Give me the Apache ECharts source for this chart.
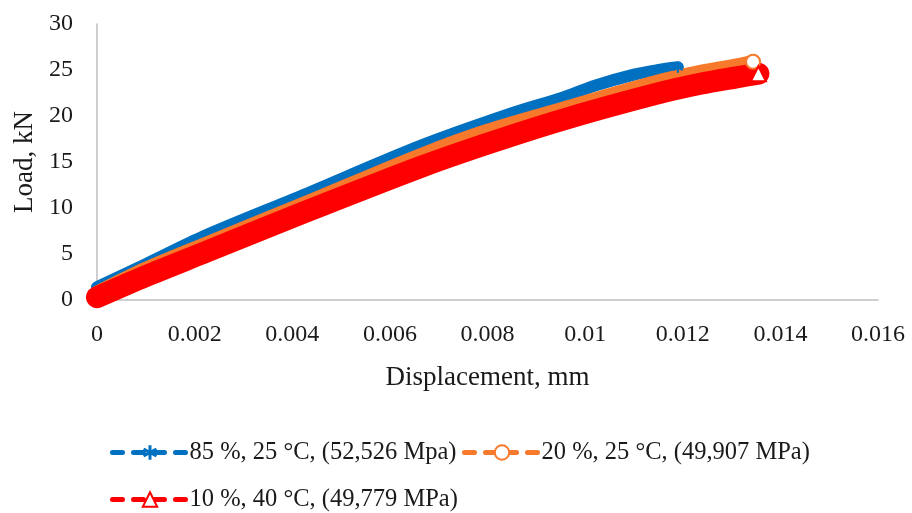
<!DOCTYPE html>
<html><head><meta charset="utf-8">
<script src="https://cdn.jsdelivr.net/npm/echarts@6/dist/echarts.min.js"></script>
<style>html,body{margin:0;padding:0;background:#fff}#c{width:912px;height:513px}</style>
</head><body><div id="c"></div>
<script>
// ---- data ----
const seriesNames = ['85 %, 25 °C, (52,526 Mpa)', '20 %, 25 °C, (49,907 MPa)', '10 %, 40 °C, (49,779 MPa)'];
const dispBlue = [0, 0.001, 0.00222, 0.00418, 0.00665, 0.0085, 0.00954, 0.0102, 0.0110, 0.0115, 0.0119];
const loadBlue = [1.4, 3.9, 7.0, 11.3, 16.8, 20.3, 22.0, 23.3, 24.5, 25.0, 25.3];
const dispOrange = [0, 0.001, 0.00222, 0.00418, 0.00665, 0.008, 0.00954, 0.01145, 0.01236, 0.0131, 0.01344];
const loadOrange = [0.8, 3.4, 6.1, 10.35, 15.8, 18.4, 20.8, 23.7, 24.8, 25.5, 25.9];
const dispRed = [0, 0.001, 0.00222, 0.00418, 0.00665, 0.008, 0.00954, 0.01145, 0.01236, 0.0131, 0.01355];
const loadRed = [0.3, 2.6, 5.2, 9.4, 14.5, 17.0, 19.6, 22.4, 23.5, 24.2, 24.6];
const xMin = 0, xMax = 0.016, xStep = 0.002;
const yMin = 0, yMax = 30, yStep = 5;

const pairs = (xs, ys) => xs.map((x, i) => [x, ys[i]]);
const asterisk = 'path://M-0.2,-1L0.2,-1L0.2,1L-0.2,1Z M-0.966,-0.327L-0.766,-0.673L0.966,0.327L0.766,0.673Z M-0.766,0.673L-0.966,0.327L0.766,-0.673L0.966,-0.327Z';
const FONT = 'Liberation Serif';
const colors = ['#0070C0', '#F7792B', '#FF0000'];

function lastOnly(size, n) {
  return function (v, p) { return p.dataIndex === n - 1 ? size : 0; };
}

function mkSeries(i, xs, ys, width, symbol, symSize) {
  return {
    name: seriesNames[i], type: 'line', data: pairs(xs, ys),
    smooth: 0.3, showSymbol: true, showAllSymbol: true,
    symbol: symbol, symbolSize: lastOnly(symSize, xs.length),
    lineStyle: { width: width, color: colors[i], cap: 'round', join: 'round' },
    itemStyle: { color: colors[i], borderWidth: 2.5 },
    emphasis: { disabled: true }, clip: true
  };
}

function mkLegend(i, left, top) {
  return {
    data: [seriesNames[i]], left: left, top: top, orient: 'horizontal', padding: 0,
    itemWidth: 75, itemHeight: 18, selectedMode: false,
    textStyle: { fontFamily: FONT, fontSize: 24.5, color: '#1a1a1a', padding: [0, 0, 0, -3] },
    lineStyle: { type: [10, 11], width: 5, cap: 'round' }
  };
}

const chart = echarts.init(document.getElementById('c'), null, { renderer: 'canvas' });
chart.setOption({
  animation: false,
  backgroundColor: '#fff',
  grid: { left: 97, right: 34, top: 24, bottom: 213, containLabel: false },
  xAxis: {
    type: 'value', min: xMin, max: xMax, interval: xStep,
    name: 'Displacement, mm', nameLocation: 'middle', nameGap: 64,
    nameTextStyle: { fontFamily: FONT, fontSize: 27, color: '#1a1a1a' },
    axisLine: { show: true, lineStyle: { color: '#bfbfbf', width: 1.5 } },
    axisTick: { show: false }, splitLine: { show: false },
    axisLabel: { fontFamily: FONT, fontSize: 24, color: '#1a1a1a', margin: 23,
      formatter: v => String(+(+v).toFixed(3)) }
  },
  yAxis: {
    type: 'value', min: yMin, max: yMax, interval: yStep,
    name: 'Load, kN', nameLocation: 'middle', nameGap: 57, nameRotate: 90,
    nameTextStyle: { fontFamily: FONT, fontSize: 27, color: '#1a1a1a' },
    axisLine: { show: true, lineStyle: { color: '#bfbfbf', width: 1.5 } },
    axisTick: { show: false }, splitLine: { show: false },
    axisLabel: { fontFamily: FONT, fontSize: 24, color: '#1a1a1a', margin: 24 }
  },
  legend: [mkLegend(0, 110, 440), mkLegend(1, 462, 440), mkLegend(2, 110, 487)],
  series: [
    mkSeries(0, dispBlue, loadBlue, 12, asterisk, 11),
    mkSeries(1, dispOrange, loadOrange, 14, 'emptyCircle', 14),
    mkSeries(2, dispRed, loadRed, 22, 'emptyTriangle', 15)
  ]
});
</script></body></html>
